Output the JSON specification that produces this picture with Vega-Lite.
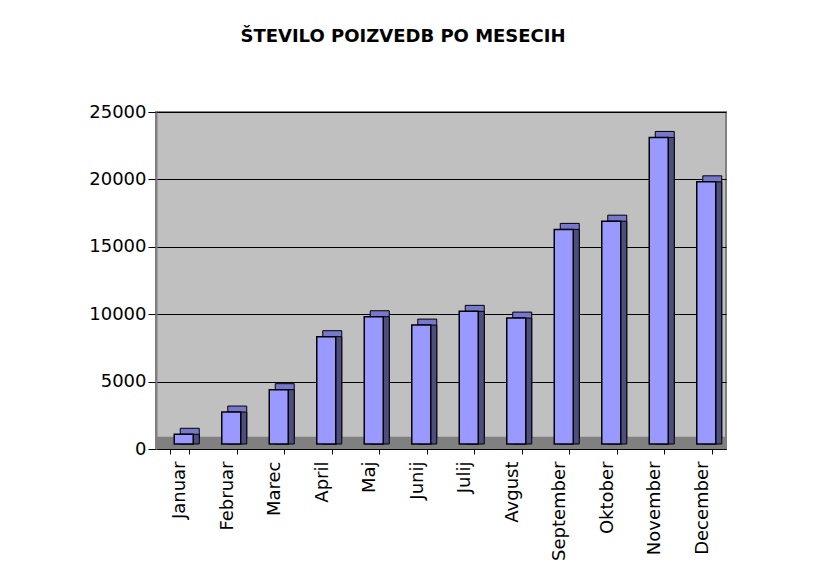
{
  "$schema": "https://vega.github.io/schema/vega-lite/v6.json",
  "width": 570,
  "height": 337,
  "autosize": {"type": "none"},
  "padding": {"left": 156, "top": 112, "right": 99, "bottom": 137},
  "background": "white",
  "title": {
    "text": "ŠTEVILO POIZVEDB PO MESECIH",
    "font": "DejaVu Sans",
    "fontSize": 18,
    "fontWeight": "bold",
    "color": "black",
    "anchor": "middle",
    "dx": -38,
    "offset": 57
  },
  "datasets": {
    "mesci": [
      {"mesec": "Januar", "poizvedbe": 720},
      {"mesec": "Februar", "poizvedbe": 2370},
      {"mesec": "Marec", "poizvedbe": 4030},
      {"mesec": "April", "poizvedbe": 7960},
      {"mesec": "Maj", "poizvedbe": 9440},
      {"mesec": "Junij", "poizvedbe": 8820},
      {"mesec": "Julij", "poizvedbe": 9840},
      {"mesec": "Avgust", "poizvedbe": 9340},
      {"mesec": "September", "poizvedbe": 15920},
      {"mesec": "Oktober", "poizvedbe": 16530},
      {"mesec": "November", "poizvedbe": 22740},
      {"mesec": "December", "poizvedbe": 19450}
    ],
    "tla": [{"spodaj": 0, "zgoraj": 900}]
  },
  "layer": [
    {
      "data": {"name": "tla"},
      "mark": {"type": "rect", "fill": "#808080", "stroke": null},
      "encoding": {
        "y": {
          "field": "spodaj",
          "type": "quantitative",
          "title": null,
          "scale": {"domain": [0, 25000], "nice": false},
          "axis": {
            "values": [0, 5000, 10000, 15000, 20000, 25000],
            "format": "d",
            "labelFont": "DejaVu Sans",
            "labelFontSize": 18,
            "labelColor": "black",
            "labelPadding": 2,
            "tickColor": "black",
            "tickSize": 8,
            "domainColor": "#808080",
            "domainWidth": 2,
            "gridColor": "black",
            "gridWidth": 1,
            "grid": true
          }
        },
        "y2": {"field": "zgoraj"}
      }
    },
    {
      "data": {"name": "mesci"},
      "encoding": {
        "x": {
          "field": "mesec",
          "type": "nominal",
          "sort": null,
          "title": null,
          "scale": {"paddingInner": 0.6, "paddingOuter": 0.3},
          "axis": {
            "labelAngle": -90,
            "labelFont": "DejaVu Sans",
            "labelFontSize": 18,
            "labelColor": "black",
            "labelPadding": 7,
            "tickBand": "extent",
            "tickColor": "black",
            "tickSize": 5,
            "domainColor": "black",
            "grid": false
          }
        },
        "y": {
          "field": "poizvedbe",
          "type": "quantitative",
          "title": null,
          "scale": {"domain": [0, 25000], "nice": false},
          "axis": {
            "values": [0, 5000, 10000, 15000, 20000, 25000],
            "format": "d",
            "labelFont": "DejaVu Sans",
            "labelFontSize": 18,
            "labelColor": "black",
            "labelPadding": 2,
            "tickColor": "black",
            "tickSize": 8,
            "domainColor": "#808080",
            "domainWidth": 2,
            "gridColor": "black",
            "gridWidth": 1,
            "grid": true
          }
        }
      },
      "layer": [
        {
          "mark": {"type": "bar", "fill": "#7777CC", "stroke": "black", "strokeWidth": 1, "width": {"band": 1}, "xOffset": 10, "yOffset": -11, "y2Offset": -11}
        },
        {
          "mark": {"type": "bar", "fill": "#4D4D80", "stroke": "black", "strokeWidth": 1, "width": {"band": 1}, "xOffset": 10, "yOffset": -5, "y2Offset": -11}
        },
        {
          "mark": {"type": "bar", "fill": "#9999FF", "stroke": "black", "strokeWidth": 1.5, "width": {"band": 1}, "xOffset": 4, "yOffset": -5, "y2Offset": -5}
        }
      ]
    }
  ],
  "config": {
    "view": {"fill": "#C0C0C0", "stroke": "#808080", "strokeWidth": 2},
    "axis": {"labelFont": "DejaVu Sans"}
  }
}
